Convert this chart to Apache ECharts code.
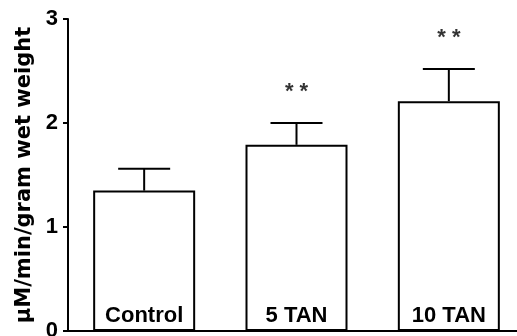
<!DOCTYPE html>
<html>
<head>
<meta charset="utf-8">
<script src="https://cdn.jsdelivr.net/npm/echarts@6/dist/echarts.min.js"></script>
<style>html,body{margin:0;padding:0;background:#fff}#c{width:517px;height:336px}</style>
</head>
<body>
<div id="c"></div>
<script>
var categories = ['Control', '5 TAN', '10 TAN'];
var means = [1.35, 1.79, 2.21];
var errors = [0.21, 0.21, 0.31];
var significance = ['', '* *', '* *'];
var yTicks = [0, 1, 2, 3];

var chart = echarts.init(document.getElementById('c'), null, {renderer: 'canvas'});
var errData = categories.map(function (c, i) { return [i, means[i], means[i] + errors[i]]; });
var starData = categories.map(function (c, i) { return [i, means[i] + errors[i], significance[i]]; });

chart.setOption({
  animation: false,
  backgroundColor: '#fff',
  grid: {left: 68, right: -8, top: 19, bottom: 5, containLabel: false, outerBoundsMode: 'none'},
  xAxis: {
    type: 'category',
    data: categories,
    axisLine: {lineStyle: {color: '#000', width: 2}},
    axisTick: {show: false},
    axisLabel: {show: false}
  },
  yAxis: {
    type: 'value',
    min: yTicks[0], max: yTicks[yTicks.length - 1], interval: 1,
    name: 'μM/min/gram wet weight',
    nameLocation: 'middle',
    nameRotate: 90,
    nameGap: 30,
    nameTextStyle: {fontFamily: 'DejaVu Sans', fontWeight: 'bold', fontSize: 21, color: '#000'},
    axisLine: {show: true, lineStyle: {color: '#000', width: 2}},
    axisTick: {show: true, length: 5, lineStyle: {color: '#000', width: 2}},
    axisLabel: {fontFamily: 'Liberation Sans', fontWeight: 'bold', fontSize: 22, color: '#000', margin: 10},
    splitLine: {show: false}
  },
  series: [
    {
      type: 'bar',
      data: means,
      barWidth: 102,
      itemStyle: {color: '#fff', borderColor: '#000', borderWidth: 2},
      label: {
        show: true, position: 'insideBottom', distance: 4,
        formatter: function (p) { return p.name; },
        fontFamily: 'Liberation Sans', fontWeight: 'bold', fontSize: 22, color: '#000'
      },
      z: 2
    },
    {
      type: 'custom',
      data: errData,
      renderItem: function (params, api) {
        var x = api.value(0);
        var lo = api.coord([x, api.value(1)]);
        var hi = api.coord([x, api.value(2)]);
        var half = 26;
        var st = {stroke: '#000', lineWidth: 2};
        return {
          type: 'group',
          children: [
            {type: 'line', shape: {x1: lo[0], y1: lo[1], x2: hi[0], y2: hi[1]}, style: st},
            {type: 'line', shape: {x1: hi[0] - half, y1: hi[1], x2: hi[0] + half, y2: hi[1]}, style: st}
          ]
        };
      },
      z: 3
    },
    {
      type: 'scatter',
      data: starData,
      symbolSize: 0,
      label: {
        show: true, position: 'top', distance: 20,
        formatter: function (p) { return p.value[2]; },
        fontFamily: 'Liberation Sans', fontWeight: 'bold', fontSize: 22, color: '#000'
      },
      z: 4
    }
  ]
});
</script>
</body>
</html>
